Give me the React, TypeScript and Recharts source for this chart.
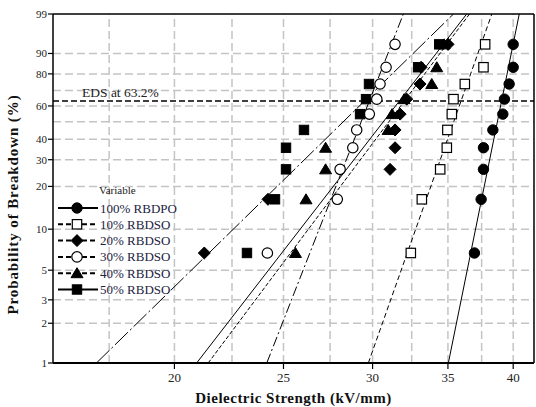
import React from "react";
import { ComposedChart, Line, Scatter, XAxis, YAxis, ReferenceLine } from "recharts";

// plotting positions (%) used for every group of ten breakdowns
const ranks = [6.7, 16.3, 26.0, 35.6, 45.2, 54.8, 64.4, 74.0, 83.6, 93.3];

// breakdown strength (kV/mm) for each oil blend, in rank order
const rbdpo100 = [36.95, 37.46, 37.64, 37.64, 38.37, 39.16, 39.29, 39.67, 40.0, 40.0];
const rbdso10 = [32.44, 33.18, 34.45, 34.92, 34.96, 35.28, 35.4, 36.23, 37.64, 37.77];
const rbdso20 = [21.26, 24.22, 31.09, 31.41, 31.41, 31.74, 32.17, 33.06, 33.13, 35.01];
const rbdso30 = [24.19, 27.91, 28.07, 28.81, 29.04, 29.8, 30.26, 30.46, 30.84, 31.41];
const rbdso40 = [25.62, 26.18, 27.25, 27.25, 30.97, 31.22, 32.0, 33.86, 34.21, 34.73];
const rbdso50 = [23.2, 24.57, 25.13, 25.13, 26.07, 29.24, 29.6, 29.78, 32.93, 34.38];

// fitted Weibull lines: strength at 1% and at 99%
const fitProbs = [1, 99];
const fit100 = [35.03, 40.5];
const fit10 = [29.74, 38.29];
const fit20 = [17.05, 35.4];
const fit30 = [24.16, 31.95];
const fit40 = [21.43, 36.58];
const fit50 = [20.93, 36.37];

const probTicks = [1, 2, 3, 5, 10, 20, 30, 40, 50, 60, 70, 80, 90, 99];
const kvTicks = [20, 25, 30, 35, 40];
const kvGrid = [17.5, 20, 22.5, 25, 27.5, 30, 32.5, 35, 37.5, 40];
const EDS = 63.2;

// Weibull paper: log strength on x, ln(-ln(1-F)) on y
const wb = (p: number) => Math.log(-Math.log(1 - p / 100));
const lg = (v: number) => Math.log(v);

const X_MIN = 15.6;
const X_MAX = 41.74;

const SERIF = "'Liberation Serif', 'Times New Roman', serif";
const GRID = "#c4c4c4";

type Kind = "circle" | "square" | "diamond" | "triangle";

const groups: { name: string; kv: number[]; fit: number[]; kind: Kind; open: boolean; dash?: string }[] = [
  { name: "100% RBDPO", kv: rbdpo100, fit: fit100, kind: "circle", open: false },
  { name: "10% RBDSO", kv: rbdso10, fit: fit10, kind: "square", open: true, dash: "5 3" },
  { name: "20% RBDSO", kv: rbdso20, fit: fit20, kind: "diamond", open: false, dash: "18 3 2 3" },
  { name: "30% RBDSO", kv: rbdso30, fit: fit30, kind: "circle", open: true, dash: "10 3 2 3" },
  { name: "40% RBDSO", kv: rbdso40, fit: fit40, kind: "triangle", open: false, dash: "4 2" },
  { name: "50% RBDSO", kv: rbdso50, fit: fit50, kind: "square", open: false },
];

const marker = (kind: Kind, open: boolean, cx: number, cy: number) => {
  const st = { fill: open ? "#fff" : "#000", stroke: "#000", strokeWidth: open ? 1.2 : 1 };
  if (kind === "circle") return <circle cx={cx} cy={cy} r={5.2} {...st} />;
  if (kind === "square") return <rect x={cx - 4.7} y={cy - 4.7} width={9.4} height={9.4} {...st} />;
  if (kind === "diamond")
    return <polygon points={`${cx},${cy - 6} ${cx + 6},${cy} ${cx},${cy + 6} ${cx - 6},${cy}`} {...st} />;
  return <polygon points={`${cx},${cy - 5.5} ${cx + 6},${cy + 4.5} ${cx - 6},${cy + 4.5}`} {...st} />;
};

const probLabel = (v: number) => {
  let best = probTicks[0];
  probTicks.forEach((p) => {
    if (Math.abs(wb(p) - v) < Math.abs(wb(best) - v)) best = p;
  });
  return String(best);
};

const Legend = () => (
  <svg width={200} height={130} style={{ position: "absolute", left: 50, top: 178, pointerEvents: "none" }}>
    <text x={49} y={16} fontFamily={SERIF} fontSize={11} fill="#222">
      Variable
    </text>
    {groups.map((g, i) => {
      const y = 30 + i * 16.3;
      return (
        <g key={g.name}>
          <line x1={8} x2={48} y1={y} y2={y} stroke="#000" strokeWidth={2} strokeDasharray={g.dash ? "5 3" : undefined} />
          {marker(g.kind, g.open, 27, y)}
          <text x={50} y={y + 4.5} fontFamily={SERIF} fontSize={13} fill="#1c2340">
            {g.name}
          </text>
        </g>
      );
    })}
  </svg>
);

const App: React.FC = () => {
  return (
    <div style={{ position: "absolute", left: 0, top: 0, width: 536, height: 407, background: "#fff" }}>
      <ComposedChart width={536} height={407} margin={{ top: 14, right: 2, bottom: 0, left: 0 }}>
        <XAxis
          type="number"
          dataKey="x"
          domain={[lg(X_MIN), lg(X_MAX)]}
          ticks={kvTicks.map(lg)}
          tickFormatter={(v: number) => String(Math.round(Math.exp(v)))}
          allowDataOverflow
          height={44}
          tickSize={6}
          tickMargin={4}
          axisLine={{ stroke: "#000", strokeWidth: 2 }}
          tickLine={{ stroke: "#000", strokeWidth: 1.2 }}
          tick={{ fontFamily: SERIF, fontSize: 13, fill: "#222" }}
          label={{
            value: "Dielectric Strength (kV/mm)",
            position: "insideBottom",
            offset: 4,
            style: { fontFamily: SERIF, fontSize: 15, fontWeight: "bold", fill: "#111", letterSpacing: 0.5 },
          }}
        />
        <YAxis
          type="number"
          dataKey="y"
          domain={[wb(1), wb(99)]}
          ticks={probTicks.map(wb)}
          tickFormatter={probLabel}
          allowDataOverflow
          width={53}
          tickSize={5}
          tickMargin={1}
          axisLine={{ stroke: "#000", strokeWidth: 1.5 }}
          tickLine={{ stroke: "#000", strokeWidth: 1.2 }}
          tick={{ fontFamily: SERIF, fontSize: 11, fill: "#222" }}
          label={{
            content: (p: any) => {
              const cx = p.viewBox.x + 13;
              const cy = p.viewBox.y + p.viewBox.height / 2 + 16;
              return (
                <text
                  x={cx}
                  y={cy}
                  transform={`rotate(-90 ${cx} ${cy})`}
                  textAnchor="middle"
                  dominantBaseline="central"
                  fontFamily={SERIF}
                  fontSize={15}
                  fontWeight="bold"
                  letterSpacing={0.9}
                  fill="#111"
                >
                  Probability of Breakdown (%)
                </text>
              );
            },
          }}
        />

        {/* dashed grid */}
        {kvGrid.map((v) => (
          <ReferenceLine key={"gx" + v} x={lg(v)} stroke={GRID} strokeWidth={1.5} strokeDasharray="8 4" />
        ))}
        {probTicks.slice(1, -1).map((p) => (
          <ReferenceLine key={"gy" + p} y={wb(p)} stroke={GRID} strokeWidth={1.5} strokeDasharray="8 4" />
        ))}

        {/* frame */}
        <ReferenceLine y={wb(99)} stroke="#000" strokeWidth={1.5} />
        <ReferenceLine x={lg(X_MAX)} stroke="#000" strokeWidth={1.5} />

        {/* characteristic strength level */}
        <ReferenceLine
          y={wb(EDS)}
          stroke="#000"
          strokeWidth={1.3}
          strokeDasharray="6 3"
          label={{
            content: (p: any) => (
              <text x={p.viewBox.x + 29} y={p.viewBox.y - 4} fontFamily={SERIF} fontSize={13.5} fill="#222">
                EDS at 63.2%
              </text>
            ),
          }}
        />

        {groups.map((g) => (
          <Line
            key={"fit" + g.name}
            data={g.fit.map((kv, i) => ({ x: lg(kv), y: wb(fitProbs[i]) }))}
            dataKey="y"
            stroke="#000"
            strokeWidth={1}
            strokeDasharray={g.dash}
            dot={false}
            activeDot={false}
            isAnimationActive={false}
          />
        ))}

        {groups.map((g) => (
          <Scatter
            key={"pts" + g.name}
            data={g.kv.map((kv, i) => ({ x: lg(kv), y: wb(ranks[i]) }))}
            dataKey="y"
            isAnimationActive={false}
            shape={(p: any) => marker(g.kind, g.open, p.cx, p.cy)}
          />
        ))}
      </ComposedChart>
      <Legend />
    </div>
  );
};

export default App;
